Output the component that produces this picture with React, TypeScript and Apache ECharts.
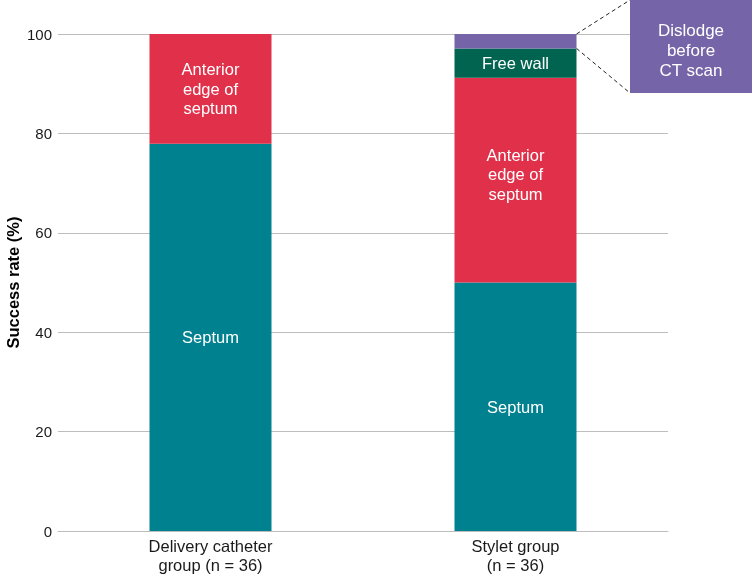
import React, { useEffect, useRef } from "react";
import * as echarts from "echarts";

const categories = ["Delivery catheter\ngroup (n = 36)", "Stylet group\n(n = 36)"];
const septum = [77.9, 50.0];
const anteriorEdge = [22.1, 41.2];
const freeWall = [0, 5.9];
const dislodge = [0, 2.9];
const yTicks = [0, 20, 40, 60, 80, 100];

const FONT = "'Liberation Sans', Arial, Helvetica, sans-serif";

export default function App() {
  const ref = useRef<HTMLDivElement>(null);
  useEffect(() => {
    if (!ref.current) return;
    const chart = echarts.init(ref.current, null, { renderer: "svg" });
    const label = (text: string) => ({
      show: true,
      position: "inside" as const,
      formatter: (p: any) => (p.value > 0 ? text : ""),
      color: "#ffffff",
      fontSize: 16.5,
      fontFamily: FONT,
      lineHeight: 19.5,
    });
    chart.setOption({
      animation: false,
      grid: { left: 58, right: 84, top: 34, bottom: 48, containLabel: false, outerBoundsMode: "none" },
      xAxis: {
        type: "category",
        data: categories,
        axisLine: { show: true, lineStyle: { color: "#bdbdbd", width: 1 } },
        axisTick: { show: false },
        axisLabel: { color: "#1a1a1a", fontSize: 16.5, fontFamily: FONT, lineHeight: 19.5, margin: 5 },
      },
      yAxis: {
        type: "value",
        min: yTicks[0],
        max: yTicks[yTicks.length - 1],
        interval: 20,
        name: "Success rate (%)",
        nameLocation: "middle",
        nameGap: 37,
        nameMoveOverlap: false,
        nameTextStyle: { color: "#000", fontSize: 16.5, fontWeight: "bold", fontFamily: FONT },
        axisLine: { show: false },
        axisTick: { show: false },
        axisLabel: { color: "#1a1a1a", fontSize: 15, fontFamily: FONT, margin: 6 },
        splitLine: { lineStyle: { color: "#bdbdbd", width: 1 } },
      },
      series: [
        { name: "Septum", type: "bar", stack: "s", barWidth: "40%", data: septum, itemStyle: { color: "#00818f" }, label: label("Septum") },
        {
          name: "Anterior edge of septum", type: "bar", stack: "s",
          data: anteriorEdge.map((v, i) => (i === 1 ? { value: v, label: { offset: [0, -6] } } : v)),
          itemStyle: { color: "#e0304a" }, label: label("Anterior\nedge of\nseptum"),
        },
        { name: "Free wall", type: "bar", stack: "s", data: freeWall, itemStyle: { color: "#006450" }, label: label("Free wall") },
        { name: "Dislodge before CT scan", type: "bar", stack: "s", data: dislodge, itemStyle: { color: "#7565a8" } },
      ],
    });
    const topPt = chart.convertToPixel({ gridIndex: 0 }, [1, 100]) as number[];
    const botPt = chart.convertToPixel({ gridIndex: 0 }, [1, 100 - dislodge[1]]) as number[];
    const barRight = topPt[0] + 61;
    const boxX = 630, boxY = -2, boxW = 124, boxH = 95;
    chart.setOption({
      graphic: [
        { type: "line", shape: { x1: barRight, y1: topPt[1], x2: boxX, y2: 0 }, style: { stroke: "#222", lineWidth: 1, lineDash: [4, 3] }, z: 10 },
        { type: "line", shape: { x1: barRight, y1: botPt[1], x2: boxX, y2: boxY + boxH }, style: { stroke: "#222", lineWidth: 1, lineDash: [4, 3] }, z: 10 },
        { type: "rect", shape: { x: boxX, y: boxY, width: boxW, height: boxH }, style: { fill: "#7565a8" }, z: 11 },
        {
          type: "text", x: boxX + 61, y: 50, z: 12,
          style: { text: "Dislodge\nbefore\nCT scan", fill: "#fff", fontSize: 17, lineHeight: 20, fontFamily: FONT, align: "center", verticalAlign: "middle" },
        },
      ],
    });
    return () => chart.dispose();
  }, []);
  return <div ref={ref} style={{ position: "fixed", left: 0, top: 0, width: 752, height: 579 }} />;
}
